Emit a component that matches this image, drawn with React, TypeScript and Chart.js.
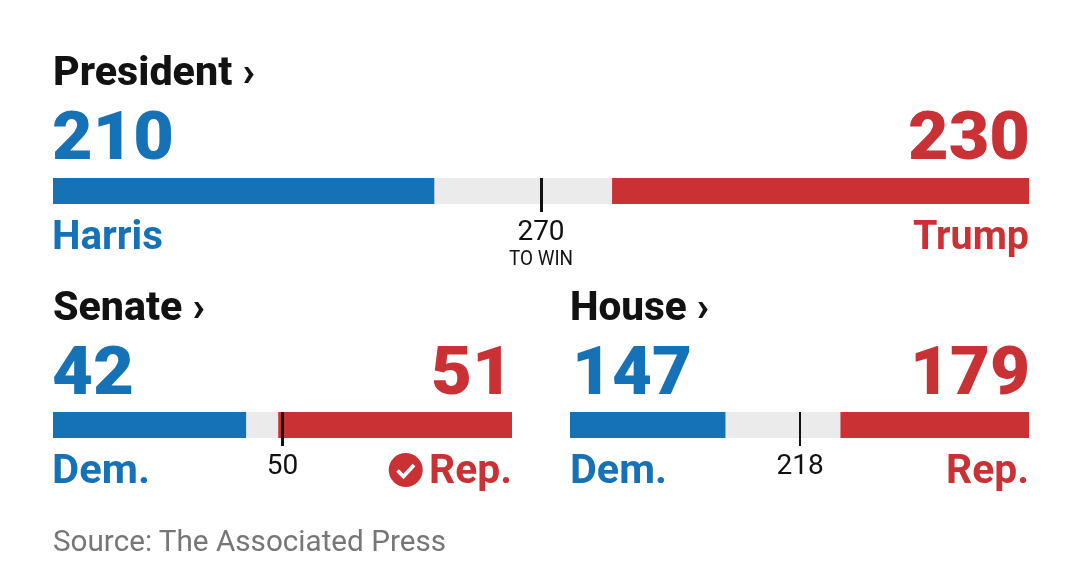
import React, { useEffect, useRef } from "react";
import { Chart, registerables } from "chart.js";

Chart.register(...registerables);

const races = ["President", "Senate", "House"];
const demSeats = [210, 42, 147];
const repSeats = [230, 51, 179];
const totalSeats = [538, 100, 435];
const markerValues = [269, 50, 218];
const markerLabels = ["270", "50", "218"];
const demLabels = ["Harris", "Dem.", "Dem."];
const repLabels = ["Trump", "Rep.", "Rep."];

const BLUE = "#1672b6";
const RED = "#c93135";
const GREY = "#ebebeb";
const INK = "#121212";
const UI = "Roboto, 'Liberation Sans', sans-serif";

const frames = [
  { left: 53, top: 178, width: 976, tick: 3 },
  { left: 53, top: 412, width: 459, tick: 3 },
  { left: 570, top: 412, width: 459, tick: 2 },
];

function RaceBar({ index }: { index: number }) {
  const ref = useRef<HTMLCanvasElement>(null);
  const f = frames[index];
  const height = 70;
  useEffect(() => {
    const dem = demSeats[index];
    const rep = repSeats[index];
    const total = totalSeats[index];
    const chart = new Chart(ref.current!, {
      type: "bar",
      data: {
        labels: [races[index]],
        datasets: [
          { label: "Dem.", data: [dem], backgroundColor: BLUE },
          { label: "Not yet called", data: [total - dem - rep], backgroundColor: GREY },
          { label: "Rep.", data: [rep], backgroundColor: RED },
        ],
      },
      options: {
        indexAxis: "y",
        animation: false,
        responsive: false,
        maintainAspectRatio: false,
        layout: { padding: 0 },
        plugins: { legend: { display: false }, tooltip: { enabled: false }, title: { display: false } },
        datasets: { bar: { barPercentage: 1, categoryPercentage: 1, borderWidth: 0 } },
        scales: {
          y: { stacked: true, display: false },
          x: {
            stacked: true,
            min: 0,
            max: total,
            border: { display: false },
            grid: {
              z: 1,
              color: "#111111",
              tickColor: "#111111",
              lineWidth: f.tick,
              tickWidth: f.tick,
              tickLength: 8,
            },
            afterBuildTicks: (axis: any) => {
              axis.ticks = [{ value: markerValues[index] }];
            },
            afterFit: (axis: any) => {
              axis.height = height - 26;
            },
            ticks: {
              autoSkip: false,
              maxRotation: 0,
              minRotation: 0,
              padding: 4,
              color: "#111111",
              font: { family: "Roboto", size: 28, weight: "400" },
              callback: () => markerLabels[index],
            },
          },
        },
      },
    } as any);
    return () => chart.destroy();
  }, [index]);
  return (
    <canvas
      ref={ref}
      width={f.width}
      height={height}
      style={{ position: "absolute", left: f.left, top: f.top, width: f.width, height }}
    />
  );
}

function T(props: { x: number; y: number; w: number; size: number; weight: number; fill: string; children: string }) {
  const { x, y, w, size, weight, fill, children } = props;
  return (
    <text
      x={x}
      y={y}
      textLength={w}
      lengthAdjust="spacingAndGlyphs"
      fontFamily={UI}
      fontSize={size}
      fontWeight={weight}
      fill={fill}
    >
      {children}
    </text>
  );
}

export default function App() {
  return (
    <div style={{ position: "absolute", left: 0, top: 0, width: 1080, height: 581, overflow: "hidden", background: "#fff" }}>
      <RaceBar index={0} />
      <RaceBar index={1} />
      <RaceBar index={2} />
      <svg width={1080} height={581} style={{ position: "absolute", left: 0, top: 0, pointerEvents: "none" }}>
        <T x={53} y={85} w={202} size={41} weight={800} fill={INK}>{`${races[0]} ›`}</T>
        <T x={53} y={320} w={152} size={41} weight={800} fill={INK}>{`${races[1]} ›`}</T>
        <T x={570} y={320} w={139} size={41} weight={800} fill={INK}>{`${races[2]} ›`}</T>

        <T x={52} y={159} w={122} size={67} weight={900} fill={BLUE}>{String(demSeats[0])}</T>
        <T x={908} y={159} w={122} size={67} weight={900} fill={RED}>{String(repSeats[0])}</T>
        <T x={52} y={394} w={82} size={67} weight={900} fill={BLUE}>{String(demSeats[1])}</T>
        <T x={431} y={394} w={82} size={67} weight={900} fill={RED}>{String(repSeats[1])}</T>
        <T x={572} y={394} w={120} size={67} weight={900} fill={BLUE}>{String(demSeats[2])}</T>
        <T x={910} y={394} w={120} size={67} weight={900} fill={RED}>{String(repSeats[2])}</T>

        <T x={52} y={249} w={111} size={41} weight={700} fill={BLUE}>{demLabels[0]}</T>
        <T x={913} y={249} w={116} size={41} weight={700} fill={RED}>{repLabels[0]}</T>
        <T x={52} y={483} w={98} size={41} weight={700} fill={BLUE}>{demLabels[1]}</T>
        <T x={429} y={483} w={83} size={41} weight={700} fill={RED}>{repLabels[1]}</T>
        <T x={570} y={483} w={97} size={41} weight={700} fill={BLUE}>{demLabels[2]}</T>
        <T x={946} y={483} w={83} size={41} weight={700} fill={RED}>{repLabels[2]}</T>

        <T x={509} y={265} w={64} size={20} weight={400} fill={INK}>TO WIN</T>

        <circle cx={405.7} cy={470} r={17} fill={RED} />
        <path d="M397.5 470.5 L403.5 476.5 L414 465" fill="none" stroke="#fff" strokeWidth={3.8} />

        <T x={53} y={551} w={393} size={29} weight={400} fill="#767676">Source: The Associated Press</T>
      </svg>
    </div>
  );
}
